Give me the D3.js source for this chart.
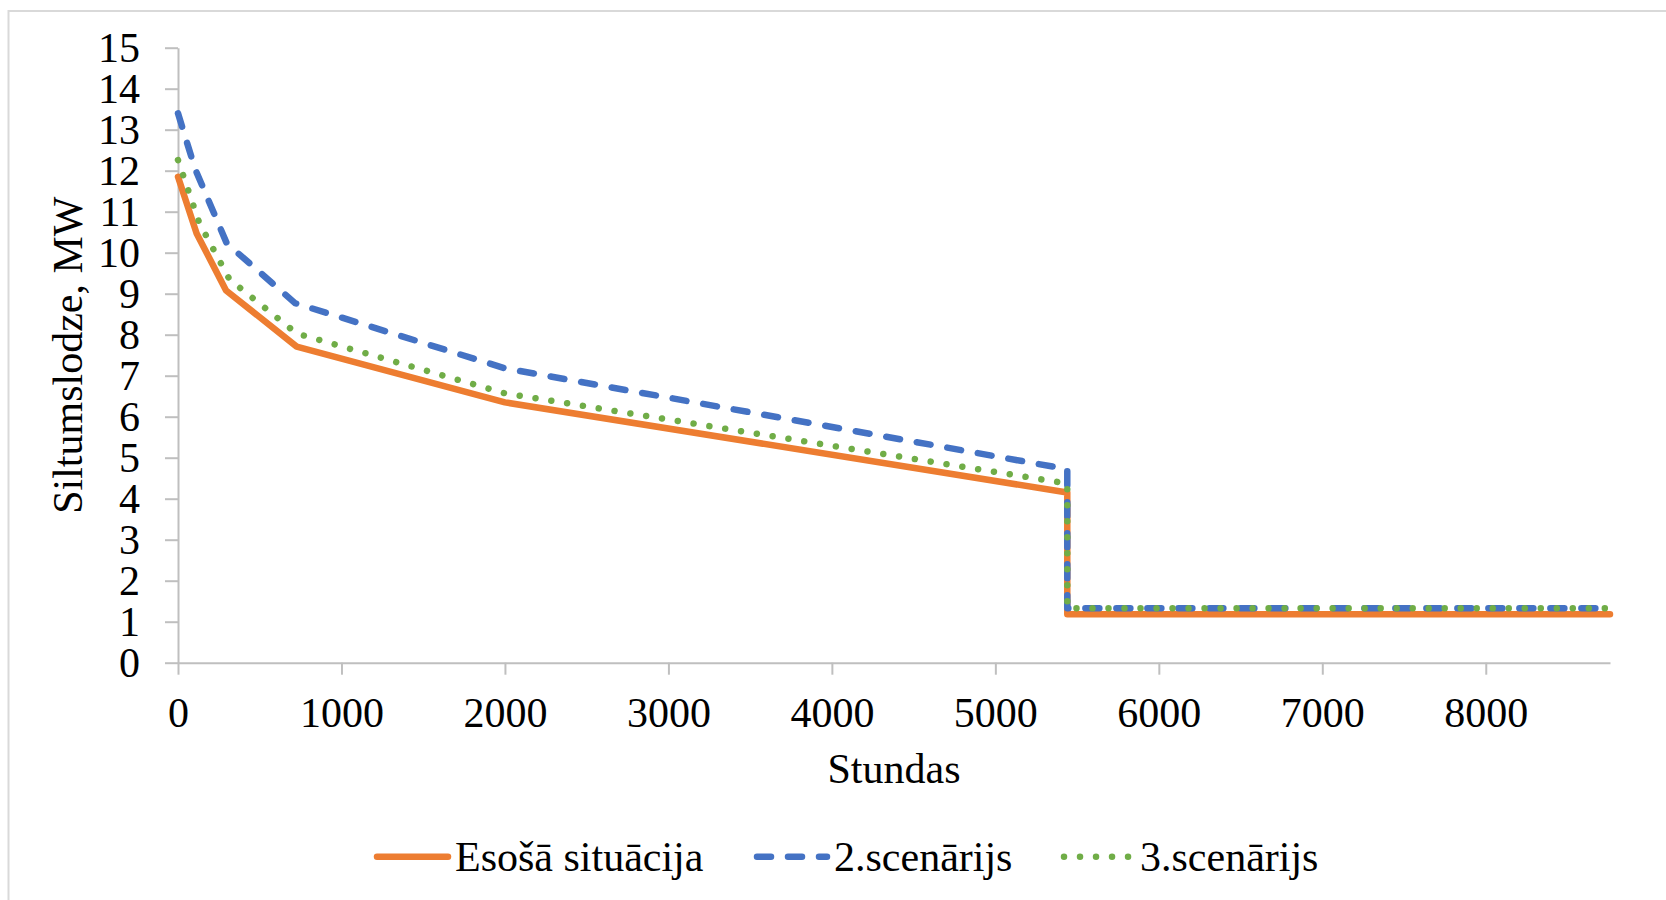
<!DOCTYPE html>
<html>
<head>
<meta charset="utf-8">
<script src="https://cdn.jsdelivr.net/npm/d3@7"></script>
<style>
  html, body { margin: 0; padding: 0; background: #fff; }
  svg { display: block; }
  text { font-family: "Liberation Serif", "Times New Roman", serif; fill: #000; }
</style>
</head>
<body>
<svg id="chart" width="1666" height="900"></svg>
<script>
// ---- data ----
const seriesNames = ["Esošā situācija", "2.scenārijs", "3.scenārijs"];
const esosaHours = [0, 114, 294, 726, 2000, 5440, 5440, 8760];
const esosaValues = [11.85, 10.47, 9.08, 7.71, 6.35, 4.15, 1.18, 1.18];
const scen2Hours = [0, 104, 298, 716, 2000, 5440, 5440, 8760];
const scen2Values = [13.4, 12.05, 10.23, 8.77, 7.18, 4.72, 1.33, 1.33];
const scen3Hours = [0, 130, 315, 726, 2000, 5440, 5440, 8760];
const scen3Values = [12.26, 10.73, 9.35, 8.03, 6.57, 4.37, 1.33, 1.33];
const xTicks = [0, 1000, 2000, 3000, 4000, 5000, 6000, 7000, 8000];
const yTicks = [0, 1, 2, 3, 4, 5, 6, 7, 8, 9, 10, 11, 12, 13, 14, 15];
const xTitle = "Stundas";
const yTitle = "Siltumslodze, MW";

(function () {
// ---- layout ----
const svg = d3.select("#chart");
const pLeft = 178, pRight = 1610, pTop = 47.7, pBottom = 662.7;
const x = d3.scaleLinear().domain([0, 8760]).range([pLeft, pRight]);
const y = d3.scaleLinear().domain([0, 15]).range([pBottom, pTop]);
const axisColor = "#bfbfbf";
const fontSize = 42;
const lw = 6.5;

// outer border
svg.append("rect")
  .attr("x", 8.5).attr("y", 11)
  .attr("width", 1700).attr("height", 1000)
  .attr("fill", "none").attr("stroke", "#d9d9d9").attr("stroke-width", 2);

// axes
const yAxis = d3.axisLeft(y).tickValues(yTicks).tickSize(13).tickSizeOuter(0).tickPadding(25);
const xAxis = d3.axisBottom(x).tickValues(xTicks).tickSize(12).tickSizeOuter(0).tickPadding(22).tickFormat(d3.format("d"));

const gy = svg.append("g").attr("transform", `translate(${pLeft},0)`).call(yAxis);
const gx = svg.append("g").attr("transform", `translate(0,${pBottom})`).call(xAxis);
[gx, gy].forEach(g => {
  g.selectAll("path.domain").attr("stroke", axisColor).attr("stroke-width", 2);
  g.selectAll(".tick line").attr("stroke", axisColor).attr("stroke-width", 2);
  g.selectAll(".tick text")
    .style("font-family", '"Liberation Serif", "Times New Roman", serif')
    .style("font-size", fontSize + "px").attr("fill", "#000");
});

// axis titles
svg.append("text")
  .attr("x", (pLeft + pRight) / 2).attr("y", 783)
  .attr("text-anchor", "middle")
  .style("font-size", fontSize + "px")
  .text(xTitle);
svg.append("text")
  .attr("transform", `translate(82,${(pTop + pBottom) / 2}) rotate(-90)`)
  .attr("text-anchor", "middle")
  .style("font-size", fontSize + "px")
  .text(yTitle);

// series
const series = [
  { name: seriesNames[0], hours: esosaHours, values: esosaValues, color: "#ED7D31", dash: null },
  { name: seriesNames[1], hours: scen2Hours, values: scen2Values, color: "#4472C4", dash: "14 17" },
  { name: seriesNames[2], hours: scen3Hours, values: scen3Values, color: "#70AD47", dash: "0.01 16" }
];
const line = d3.line().x(d => x(d[0])).y(d => y(d[1]));

series.forEach(s => {
  const pts = s.hours.map((h, i) => [h, s.values[i]]);
  svg.append("path")
    .datum(pts)
    .attr("d", line)
    .attr("fill", "none")
    .attr("stroke", s.color)
    .attr("stroke-width", lw)
    .attr("stroke-linejoin", "round")
    .attr("stroke-linecap", "round")
    .attr("stroke-dasharray", s.dash);
});

// legend
const legendItems = [
  { x0: 377, x1: 448, tx: 455 },
  { x0: 757, x1: 827, tx: 834 },
  { x0: 1064, x1: 1134, tx: 1140 }
];
const ly = 856.7;
series.forEach((s, i) => {
  const li = legendItems[i];
  svg.append("line")
    .attr("x1", li.x0).attr("x2", li.x1)
    .attr("y1", ly).attr("y2", ly)
    .attr("stroke", s.color)
    .attr("stroke-width", lw)
    .attr("stroke-linecap", "round")
    .attr("stroke-dasharray", s.dash);
  svg.append("text")
    .attr("x", li.tx).attr("y", 870.7)
    .style("font-size", fontSize + "px")
    .text(s.name);
});
})();
</script>
</body>
</html>
